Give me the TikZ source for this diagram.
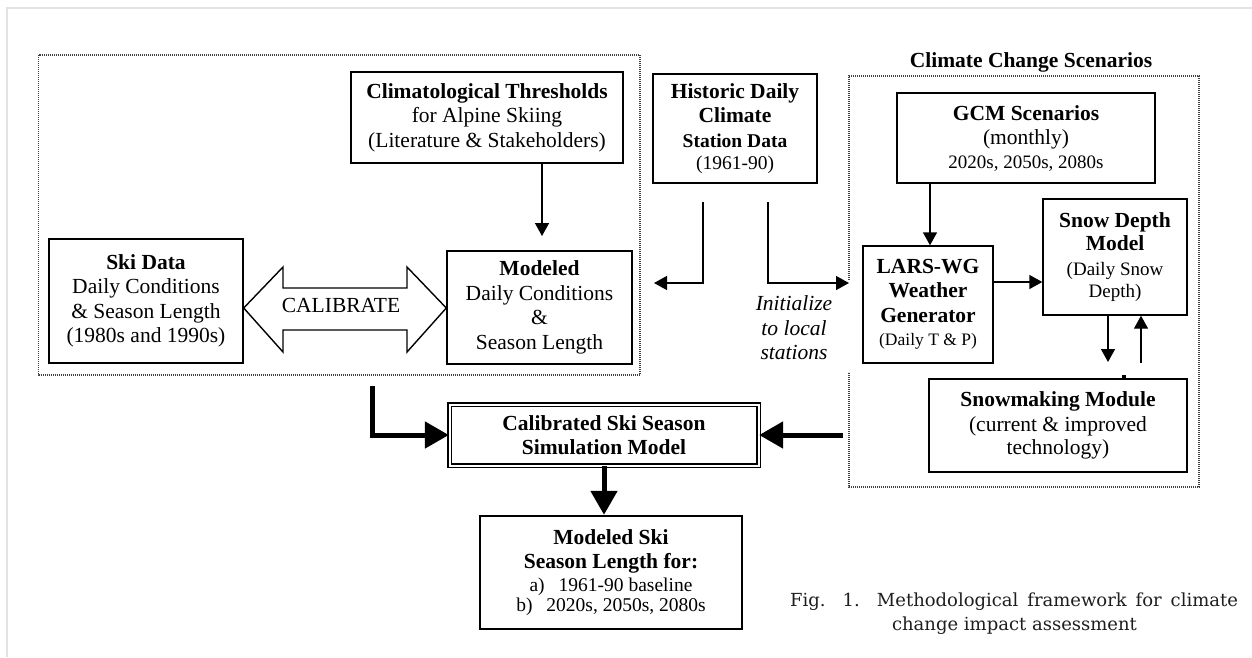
\documentclass[tikz,border=0pt]{standalone}
\usepackage{fontspec}
\setmainfont{Liberation Serif}
\newfontfamily\capfont{DejaVu Serif}
\usetikzlibrary{arrows.meta}

\newcommand\mainsz{\fontsize{21.5}{24.5}\selectfont}
\newcommand\fsz[1]{\fontsize{#1}{24.5}\selectfont}
\definecolor{capgray}{HTML}{1E1E1E}
\definecolor{framegray}{HTML}{E2E2E2}

\begin{document}
\begin{tikzpicture}[x=1pt,y=-1pt,
  box/.style={draw, line width=1.4pt, inner sep=0pt, align=center, font=\mainsz},
  outbox/.style={box, line width=2.4pt},
  dblbox/.style={box, double, double distance=2pt, line width=1.3pt},
  frame/.style={black!75, line width=1.4pt, dash pattern=on 1.2pt off 0.8pt},
  arr/.style={line width=1.4pt, -{Triangle[length=13pt,width=14pt]}},
  fatarr/.style={line width=5pt, -{Triangle[length=24pt,width=26pt]}},
  lbl/.style={font=\mainsz, inner sep=0pt, align=center},
  captxt/.style={inner sep=0pt, text=capgray, font=\capfont\fontsize{18}{24}\selectfont}]

\useasboundingbox (0,0) rectangle (1252,657);
\draw[framegray, line width=2pt] (7,657) -- (7,8) -- (1252,8);

% dotted group frames
\draw[frame] (38.7,55) rectangle (640,375);
\draw[frame] (849,280) -- (849,76) -- (1199,76) -- (1199,487) -- (849,487) -- (849,372);
\node[lbl, font=\mainsz\bfseries] (ccs) at (1031,62) {Climate Change Scenarios};

% boxes
\node[box, minimum width=194pt, minimum height=124pt] (ski) at (146,301)
  {\textbf{Ski Data}\\Daily Conditions\\\& Season Length\\(1980s and 1990s)};
\node[box, minimum width=272pt, minimum height=91pt] (thr) at (487,117.5)
  {\textbf{Climatological Thresholds}\\for Alpine Skiing\\(Literature \& Stakeholders)};
\node[box, minimum width=185pt, minimum height=113pt] (mod) at (539.5,307.5)
  {\textbf{Modeled}\\Daily Conditions\\\&\\Season Length};
\node[box, minimum width=164pt, minimum height=109pt] (hist) at (735,128.5)
  {\textbf{Historic Daily}\\\textbf{Climate}\\{\fsz{19.5}\bfseries Station Data}\\[-2pt]{\fsz{19.5}(1961-90)}};
\node[box, minimum width=258pt, minimum height=90pt] (gcm) at (1026,138)
  {\textbf{GCM Scenarios}\\(monthly)\\[-1pt]{\fsz{19}2020s, 2050s, 2080s}};
\node[box, minimum width=130pt, minimum height=117pt] (lars) at (928,304.5)
  {\textbf{LARS-WG}\\\textbf{Weather}\\\textbf{Generator}\\[-1pt]{\fsz{17.5}(Daily T \& P)}};
\node[box, minimum width=144pt, minimum height=116pt] (snow) at (1115,257)
  {\textbf{Snow Depth}\\[-1pt]\textbf{Model}\\{\fsz{19}(Daily Snow}\\[-2pt]{\fsz{19}Depth)}};
\node[box, minimum width=258pt, minimum height=93pt] (smk) at (1058,425.5)
  {\textbf{Snowmaking Module}\\(current \& improved\\[-1pt]technology)};
\node[dblbox, minimum width=309pt, minimum height=61pt] (calib) at (604,435)
  {\textbf{Calibrated Ski Season}\\\textbf{Simulation Model}};
\node[outbox, minimum width=262pt, minimum height=113pt] (out) at (611,572.5)
  {\textbf{Modeled Ski}\\\textbf{Season Length for:}\\[-2pt]{\fsz{19.5}a)\hspace{14pt}1961-90 baseline}\\[-4pt]{\fsz{19.5}b)\hspace{14pt}2020s, 2050s, 2080s}};

% calibration double arrow between ski data and modeled conditions
\draw[line width=1.4pt, line join=miter] (ski.east |- 0,308) -- (283,267) -- (283,288) -- (407,288) -- (407,267)
  -- (mod.west |- 0,308) -- (407,352) -- (407,330) -- (283,330) -- (283,352) -- cycle;
\node[lbl] (caltxt) at (341,305) {CALIBRATE};

% thin connectors
\coordinate (thrEnd) at (542,236);
\draw[arr] (thr.south -| thrEnd) -- (thrEnd);

\coordinate (hA) at (703,202);
\coordinate (hAe) at (654,283);
\coordinate (hB) at (768,202);
\coordinate (hBe) at (849,283);
\draw[arr] (hA) |- (hAe);
\draw[arr] (hB) |- (hBe);
\node[lbl, font=\mainsz\itshape] (init) at (794,328) {Initialize\\to local\\stations};

\coordinate (gx) at (930,0);
\draw[arr] (gcm.south -| gx) -- (lars.north -| gx);
\coordinate (ly) at (0,282);
\draw[arr] (lars.east |- ly) -- (snow.west |- ly);
\coordinate (sd) at (1108,362);
\draw[arr] (snow.south -| sd) -- (sd);
\coordinate (su) at (1141,363);
\draw[arr] (su) -- (snow.south -| su);
\fill (1122,375) rectangle (1126,379);

% heavy connectors
\coordinate (tk) at (372,386);
\draw[fatarr] (tk) |- (calib.west);
\coordinate (tr) at (843,435);
\draw[fatarr] (tr) -- (calib.east |- tr);
\draw[fatarr] (calib.south) -- (calib.south |- out.north);

% caption
\node[captxt] (cap1) at (1014,602)
  {\makebox[448pt][s]{Fig. 1. Methodological framework for climate}};
\node[captxt] (cap2) at (1014.5,626) {change impact assessment};
\end{tikzpicture}
\end{document}
